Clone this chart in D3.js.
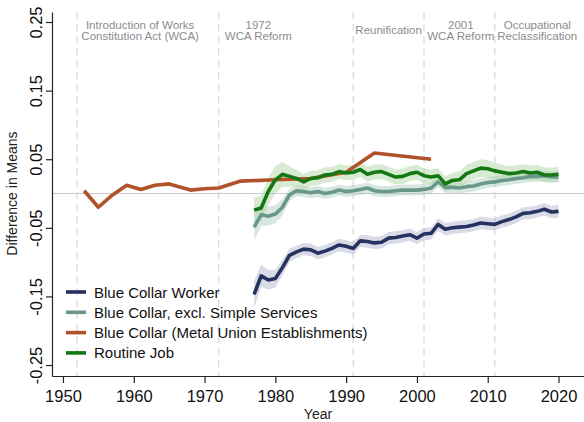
<!DOCTYPE html>
<html>
<head>
<meta charset="utf-8">
<script src="https://cdn.jsdelivr.net/npm/d3@7"></script>
<style>
  body { margin: 0; background: #fff; }
  svg { font-family: "Liberation Sans", Arial, sans-serif; display: block; }
</style>
</head>
<body>
<div id="chart"></div>
<script>
// annual series 1977-2020
var years = d3.range(1977, 2021);

var blueCollar = [-0.147, -0.120, -0.126, -0.124, -0.108, -0.090, -0.085, -0.081, -0.082, -0.087,
  -0.084, -0.080, -0.075, -0.077, -0.080, -0.069, -0.070, -0.072, -0.071, -0.065,
  -0.064, -0.062, -0.060, -0.065, -0.059, -0.058, -0.045, -0.052, -0.050, -0.049,
  -0.048, -0.046, -0.043, -0.044, -0.045, -0.041, -0.038, -0.034, -0.029, -0.028,
  -0.026, -0.023, -0.027, -0.026];
var blueCollarCI = [0.020, 0.016, 0.014, 0.013, 0.011, 0.010, 0.009, 0.009, 0.009, 0.009,
  0.009, 0.009, 0.009, 0.009, 0.009, 0.009, 0.009, 0.009, 0.009, 0.009,
  0.009, 0.009, 0.009, 0.009, 0.009, 0.009, 0.009, 0.009, 0.009, 0.009,
  0.009, 0.009, 0.009, 0.009, 0.009, 0.009, 0.009, 0.009, 0.009, 0.009,
  0.009, 0.009, 0.009, 0.009];

var exclSimple = [-0.049, -0.031, -0.033, -0.030, -0.020, -0.002, 0.004, 0.003, 0.001, 0.003,
  0.000, 0.002, 0.005, 0.003, 0.004, 0.006, 0.008, 0.004, 0.003, 0.003,
  0.004, 0.005, 0.005, 0.005, 0.006, 0.008, 0.017, 0.009, 0.009, 0.008,
  0.010, 0.011, 0.014, 0.016, 0.017, 0.019, 0.020, 0.022, 0.023, 0.025,
  0.025, 0.026, 0.024, 0.024];
var exclSimpleCI = [0.020, 0.016, 0.014, 0.013, 0.012, 0.009, 0.008, 0.008, 0.008, 0.008,
  0.008, 0.008, 0.008, 0.008, 0.008, 0.008, 0.008, 0.008, 0.008, 0.008,
  0.008, 0.008, 0.008, 0.008, 0.008, 0.008, 0.008, 0.008, 0.008, 0.008,
  0.008, 0.008, 0.008, 0.008, 0.008, 0.008, 0.008, 0.008, 0.008, 0.008,
  0.008, 0.008, 0.008, 0.008];

var routine = [-0.024, -0.021, 0.003, 0.020, 0.028, 0.025, 0.022, 0.017, 0.022, 0.023,
  0.027, 0.028, 0.032, 0.030, 0.031, 0.035, 0.028, 0.031, 0.032, 0.028,
  0.024, 0.025, 0.029, 0.031, 0.026, 0.024, 0.026, 0.014, 0.019, 0.020,
  0.029, 0.033, 0.037, 0.036, 0.033, 0.031, 0.029, 0.030, 0.032, 0.030,
  0.031, 0.027, 0.027, 0.028];
var routineCI = [0.018, 0.018, 0.020, 0.020, 0.018, 0.015, 0.012, 0.011, 0.011, 0.011,
  0.011, 0.011, 0.011, 0.011, 0.011, 0.011, 0.011, 0.011, 0.011, 0.011,
  0.011, 0.011, 0.011, 0.011, 0.011, 0.011, 0.011, 0.011, 0.011, 0.012,
  0.013, 0.013, 0.013, 0.013, 0.012, 0.011, 0.011, 0.011, 0.011, 0.011,
  0.011, 0.011, 0.011, 0.011];

// metal union establishments, irregular years
var metalYears = [1953, 1955, 1957, 1959, 1961, 1963, 1965, 1968, 1970, 1972, 1975, 1980, 1985, 1990, 1994, 2002];
var metalUnion = [0.004, -0.020, -0.002, 0.012, 0.006, 0.012, 0.014, 0.005, 0.007, 0.008, 0.018, 0.020, 0.022, 0.031, 0.059, 0.050];

var eventYears = [1952, 1972, 1991, 2001, 2011];
var eventLabels = [["Introduction of Works", "Constitution Act (WCA)"], ["1972", "WCA Reform"], ["Reunification"], ["2001", "WCA Reform"], ["Occupational", "Reclassification"]];
var eventLabelYears = [1960.9, 1977.6, 1996.0, 2006.2, 2017.0];

var xTicks = [1950, 1960, 1970, 1980, 1990, 2000, 2010, 2020];
var yTicks = [0.25, 0.15, 0.05, -0.05, -0.15, -0.25];

var seriesNames = ["Blue Collar Worker", "Blue Collar, excl. Simple Services", "Blue Collar (Metal Union Establishments)", "Routine Job"];
var seriesColors = ["#26325f", "#6a9888", "#b0522a", "#137813"];
var bandColors = ["#aab0c8", "#a9cabd", null, "#a6d39c"];

var width = 584, height = 422;
var margin = {left: 52, top: 12, right: 0, bottom: 46};

var x = d3.scaleLinear().domain([1948.45, 2023.6]).range([margin.left, width - margin.right]);
var y = d3.scaleLinear().domain([-0.266, 0.2646]).range([height - margin.bottom, margin.top]);

var svg = d3.select("#chart").append("svg")
  .attr("width", width)
  .attr("height", height);

// zero line
svg.append("line")
  .attr("x1", margin.left).attr("x2", width)
  .attr("y1", y(0)).attr("y2", y(0))
  .attr("stroke", "#c8c8c8").attr("stroke-width", 1.2);

// event lines
svg.selectAll(".event")
  .data(eventYears)
  .enter().append("line")
  .attr("x1", function(d) { return x(d); }).attr("x2", function(d) { return x(d); })
  .attr("y1", margin.top).attr("y2", height - margin.bottom)
  .attr("stroke", "#d6d6d6").attr("stroke-width", 1.2)
  .attr("stroke-dasharray", "7,5");

// event labels
eventLabels.forEach(function(lines, i) {
  var t = svg.append("text")
    .attr("x", x(eventLabelYears[i]))
    .attr("text-anchor", "middle")
    .attr("fill", "#8c8c8c")
    .style("font-size", "11.5px");
  if (lines.length === 1) {
    t.append("tspan").attr("x", x(eventLabelYears[i])).attr("y", 34).text(lines[0]);
  } else {
    lines.forEach(function(l, j) {
      t.append("tspan").attr("x", x(eventLabelYears[i])).attr("y", 29 + j * 11).text(l);
    });
  }
});

// confidence bands
var bands = [[blueCollar, blueCollarCI, 0], [exclSimple, exclSimpleCI, 1], [routine, routineCI, 3]];
var area = d3.area()
  .x(function(d) { return x(d.year); })
  .y0(function(d) { return y(d.v - d.ci); })
  .y1(function(d) { return y(d.v + d.ci); });

bands.forEach(function(b) {
  var pts = years.map(function(yr, i) { return {year: yr, v: b[0][i], ci: b[1][i]}; });
  svg.append("path")
    .attr("d", area(pts))
    .attr("fill", bandColors[b[2]])
    .attr("fill-opacity", 0.45);
});

var line = d3.line()
  .x(function(d) { return x(d[0]); })
  .y(function(d) { return y(d[1]); });

var lineData = [
  d3.zip(years, blueCollar),
  d3.zip(years, exclSimple),
  d3.zip(metalYears, metalUnion),
  d3.zip(years, routine)
];

lineData.forEach(function(pts, i) {
  svg.append("path")
    .attr("d", line(pts))
    .attr("fill", "none")
    .attr("stroke", seriesColors[i])
    .attr("stroke-width", 3.6)
    .attr("stroke-linejoin", "round");
});

// axes
var xAxis = svg.append("g")
  .attr("transform", "translate(0," + (height - margin.bottom) + ")")
  .call(d3.axisBottom(x).tickValues(xTicks).tickFormat(d3.format("d")).tickSize(7).tickSizeOuter(0));
xAxis.select(".domain").attr("stroke", "#222").attr("stroke-width", 1.2);
xAxis.selectAll(".tick line").attr("stroke", "#222").attr("stroke-width", 1.2);
xAxis.selectAll("text")
  .attr("fill", "#111")
  .attr("dy", "0.95em")
  .style("font-size", "16.5px")
  .style("font-family", "'Liberation Sans', Arial, sans-serif");

var yAxis = svg.append("g")
  .attr("transform", "translate(" + margin.left + ",0)")
  .call(d3.axisLeft(y).tickValues(yTicks).tickFormat(d3.format(".2f")).tickSize(6).tickSizeOuter(0));
yAxis.select(".domain").attr("stroke", "#222").attr("stroke-width", 1.2);
yAxis.selectAll(".tick line").attr("stroke", "#222").attr("stroke-width", 1.2);
yAxis.selectAll("text")
  .attr("fill", "#111")
  .attr("x", 0).attr("dy", 0)
  .attr("transform", "translate(-16,0) rotate(-90)")
  .attr("text-anchor", "middle")
  .attr("dominant-baseline", "central")
  .text(function(d) { return d3.format(".2f")(d).replace("−", "-"); })
  .style("font-size", "16.5px")
  .style("font-family", "'Liberation Sans', Arial, sans-serif");

svg.append("text")
  .attr("transform", "translate(12," + y(0) + ") rotate(-90)")
  .attr("text-anchor", "middle")
  .attr("dominant-baseline", "central")
  .attr("fill", "#222")
  .style("font-size", "14px")
  .text("Difference in Means");

svg.append("text")
  .attr("x", 318).attr("y", 419)
  .attr("text-anchor", "middle")
  .attr("fill", "#222")
  .style("font-size", "14px")
  .text("Year");

// legend
var legend = svg.append("g").attr("transform", "translate(66,292)");
seriesNames.forEach(function(name, i) {
  var g = legend.append("g").attr("transform", "translate(0," + (i * 20.3) + ")");
  g.append("line")
    .attr("x1", 0).attr("x2", 20)
    .attr("stroke", seriesColors[i]).attr("stroke-width", 3.6);
  g.append("text")
    .attr("x", 28).attr("y", 0)
    .attr("dominant-baseline", "central")
    .attr("fill", "#111")
    .style("font-size", "15px")
    .text(name);
});
</script>
</body>
</html>
